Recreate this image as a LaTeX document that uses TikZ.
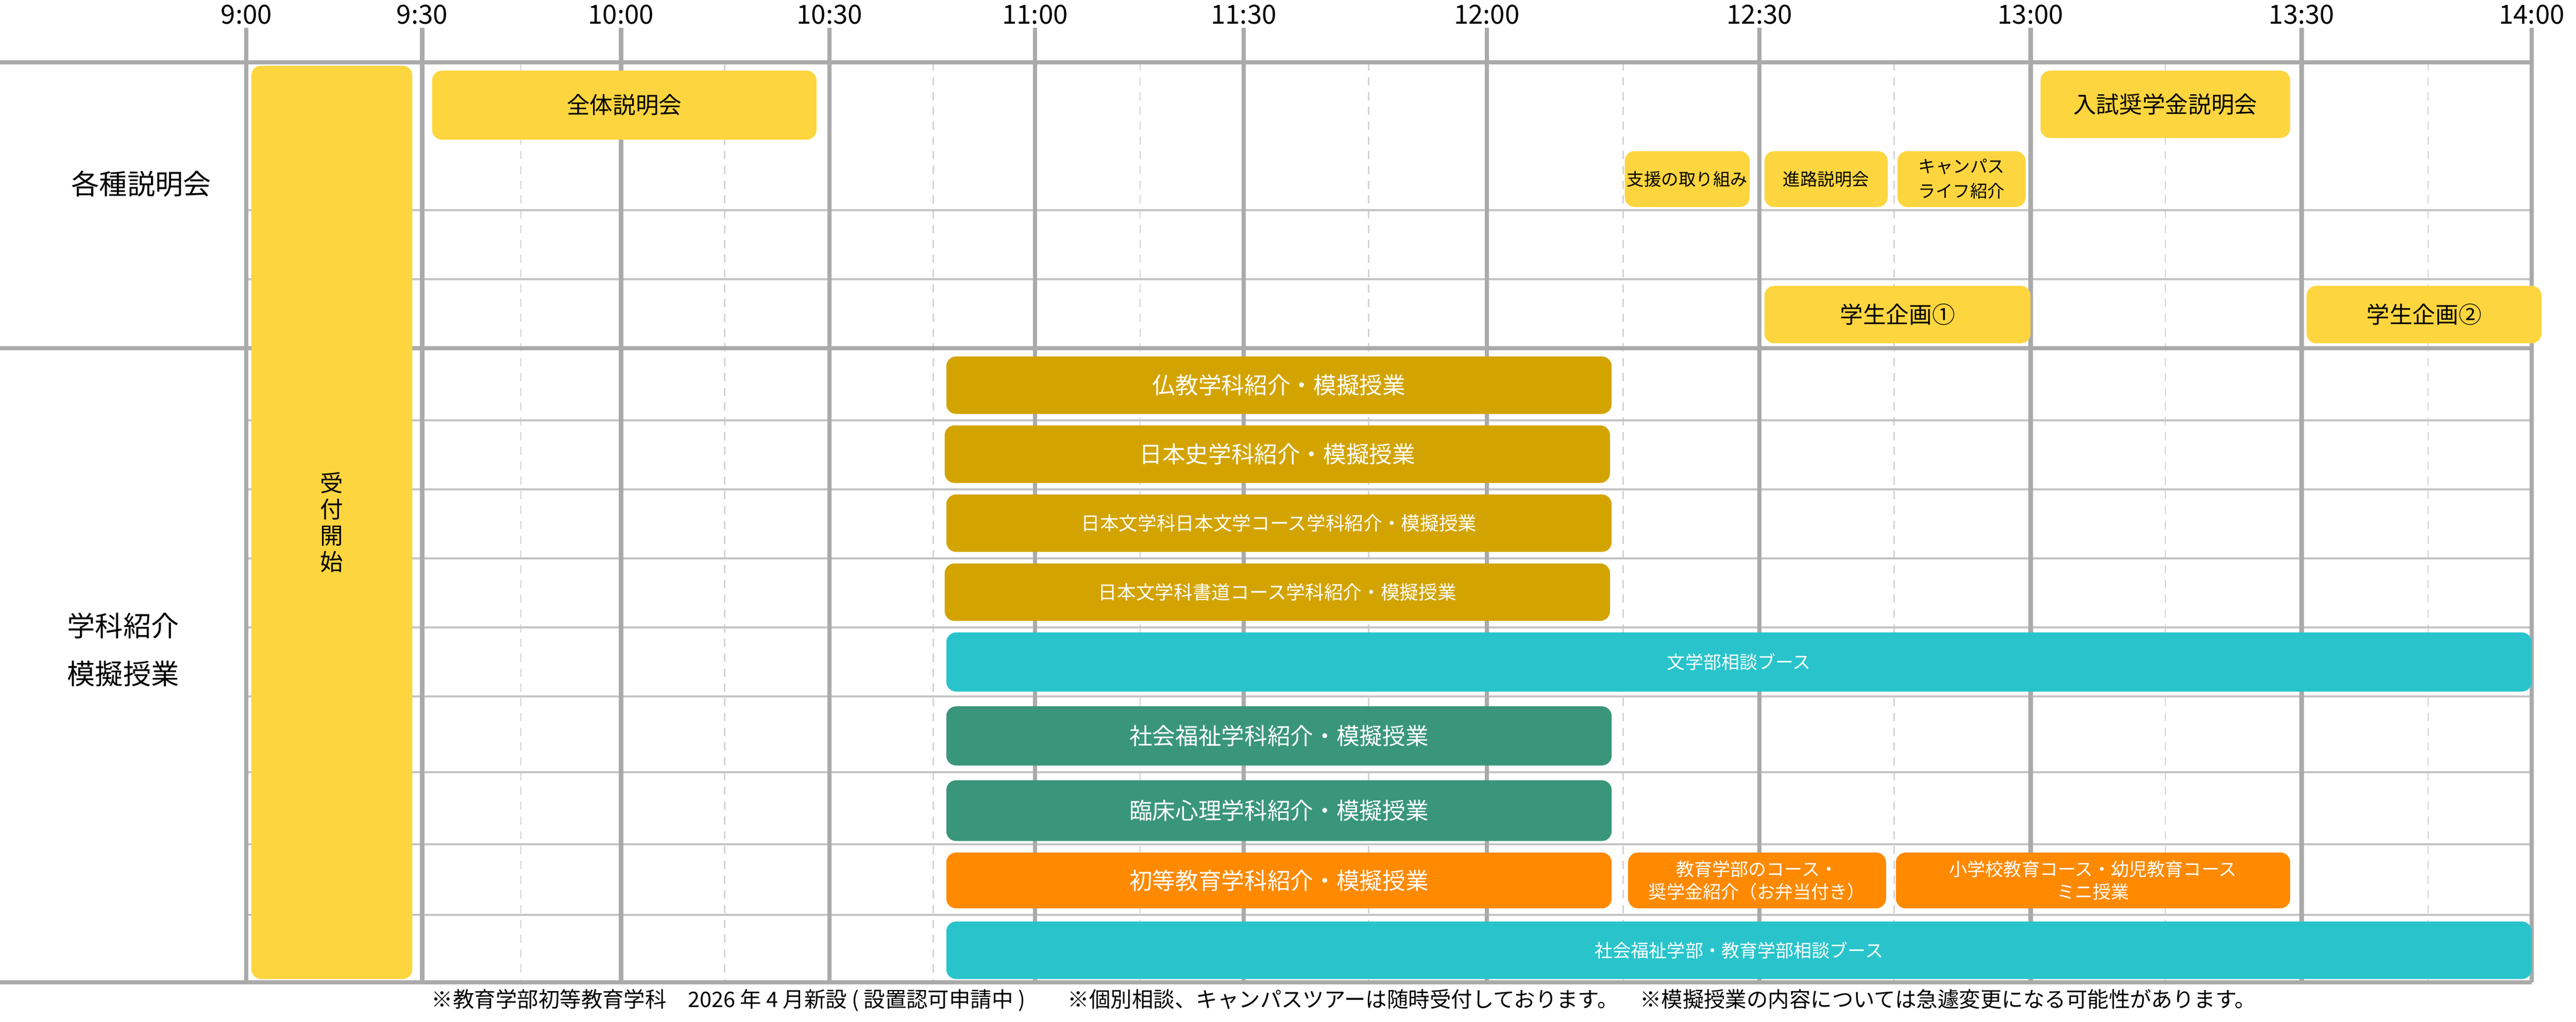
\documentclass[tikz,border=0pt]{standalone}
\usepackage{fontspec}
\setmainfont{Noto Sans CJK JP}
\begin{document}
\begin{tikzpicture}[x=1pt,y=-1pt,
  evbox/.style={rectangle,rounded corners=6pt,inner sep=0pt,align=center,font=\fontsize{14}{16}\selectfont},
  yel/.style={evbox,fill=ylw,text=black},
  gold/.style={evbox,fill=gld,text=white},
  tealbox/.style={evbox,fill=tl,text=white},
  grn/.style={evbox,fill=gr,text=white},
  org/.style={evbox,fill=og,text=white},
  vline/.style={line width=2.6pt,draw=gridc},
  thickline/.style={line width=2.4pt,draw=gridc},
  thinline/.style={line width=1.3pt,draw=thinc},
  dashline/.style={line width=0.8pt,draw=dashc,dash pattern=on 5pt off 4pt},
  tlabel/.style={font=\fontsize{16}{18}\selectfont,inner sep=0pt},
  rlabel/.style={font=\fontsize{17}{20}\selectfont,inner sep=0pt,align=center}]
\definecolor{ylw}{HTML}{FDD53F}
\definecolor{gld}{HTML}{D3A400}
\definecolor{tl}{HTML}{29C4CB}
\definecolor{gr}{HTML}{3A967A}
\definecolor{og}{HTML}{FF8A00}
\definecolor{gridc}{HTML}{AAAAAA}
\definecolor{thinc}{HTML}{C4C4C4}
\definecolor{dashc}{HTML}{D4D4D4}
\useasboundingbox[fill=white] (0,0) rectangle (1568,622);
\foreach \x in {317,441,568,694,833,988,1153,1318,1478}
  \draw[dashline] (\x,38) -- (\x,598);
\foreach \y in {128,170,256,298,340,382,424,470,514,557}
  \draw[thinline] (150,\y) -- (1541,\y);
\foreach \x/\t [count=\i] in {150/9:00,257/9:30,378/10:00,505/10:30,630/11:00,757/11:30,905/12:00,1071/12:30,1236/13:00,1401/13:30,1541/14:00}{
  \draw[vline] (\x,17) -- (\x,598);
  \node[tlabel] (t\i) at (\x,9) {\t};
}
\draw[thickline] (0,38) -- (1541,38);
\draw[thickline] (0,212) -- (1541,212);
\draw[thickline] (0,598) -- (1541,598);
\node[rlabel] (r1) at (86,112) {各種説明会};
\node[rlabel] (r2) at (75,381) {学科紹介};
\node[rlabel] (r3) at (75,410) {模擬授業};
\node[yel,minimum width=98,minimum height=556] (uketsuke) at (202,318) {受\\付\\開\\始};
\node[yel,minimum width=234,minimum height=42] (zentai) at (380,64) {全体説明会};
\node[yel,minimum width=76,minimum height=34,font=\fontsize{10.5}{13}\selectfont] (shien) at (1027,109) {支援の取り組み};
\node[yel,minimum width=75,minimum height=34,font=\fontsize{10.5}{13}\selectfont] (shinro) at (1111.5,109) {進路説明会};
\node[yel,minimum width=78,minimum height=34,font=\fontsize{10.5}{15}\selectfont] (campus) at (1194,109) {キャンパス\\ライフ紹介};
\node[yel,minimum width=152,minimum height=41] (nyushi) at (1318,63.5) {入試奨学金説明会};
\node[yel,minimum width=162,minimum height=35] (kikaku1) at (1155,191.5) {学生企画①};
\node[yel,minimum width=143,minimum height=35] (kikaku2) at (1475.5,191.5) {学生企画②};
\node[gold,minimum width=405,minimum height=35] (bukkyo) at (778.5,234.5) {仏教学科紹介・模擬授業};
\node[gold,minimum width=405,minimum height=35] (nihonshi) at (777.5,276.5) {日本史学科紹介・模擬授業};
\node[gold,minimum width=405,minimum height=35,font=\fontsize{11.5}{13}\selectfont] (nihonbun) at (778.5,318.5) {日本文学科日本文学コース学科紹介・模擬授業};
\node[gold,minimum width=405,minimum height=35,font=\fontsize{11.5}{13}\selectfont] (shodo) at (777.5,360.5) {日本文学科書道コース学科紹介・模擬授業};
\node[tealbox,minimum width=965,minimum height=36,font=\fontsize{11}{13}\selectfont] (bungaku) at (1058.5,403) {文学部相談ブース};
\node[grn,minimum width=405,minimum height=36] (shakai) at (778.5,448) {社会福祉学科紹介・模擬授業};
\node[grn,minimum width=405,minimum height=37] (rinsho) at (778.5,493.5) {臨床心理学科紹介・模擬授業};
\node[org,minimum width=405,minimum height=34] (shoto) at (778.5,536) {初等教育学科紹介・模擬授業};
\node[org,minimum width=157,minimum height=34,font=\fontsize{11}{14}\selectfont] (kyoiku) at (1069.5,536) {教育学部のコース・\\奨学金紹介（お弁当付き）};
\node[org,minimum width=240,minimum height=34,font=\fontsize{11}{14}\selectfont] (shogakko) at (1274,536) {小学校教育コース・幼児教育コース\\ミニ授業};
\node[tealbox,minimum width=965,minimum height=35,font=\fontsize{11}{13}\selectfont] (shakaisodan) at (1058.5,578.5) {社会福祉学部・教育学部相談ブース};
\node[font=\fontsize{13}{15}\selectfont,inner sep=0pt] (footer) at (818,609) {※教育学部初等教育学科　2026 年 4 月新設 ( 設置認可申請中 )　　※個別相談、キャンパスツアーは随時受付しております。　※模擬授業の内容については急遽変更になる可能性があります。};
\end{tikzpicture}
\end{document}
